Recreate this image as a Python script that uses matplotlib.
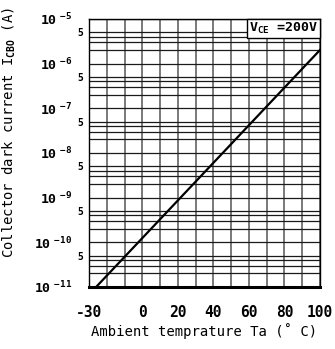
import math
import matplotlib
matplotlib.use("Agg")
import matplotlib.pyplot as plt
from matplotlib.ticker import FixedLocator, FuncFormatter, LogLocator, MultipleLocator
from matplotlib.offsetbox import AnchoredText

# dark current vs ambient temperature, straight line on a log axis
temp = [-26, 100]
i_cbo = [1e-11, 2e-6]

x_ticks = [-30, 0, 20, 40, 60, 80, 100]
decades = [-11, -10, -9, -8, -7, -6, -5]
condition = r"V$_{\rm CE}$ =200V"

plt.rcParams['font.family'] = 'DejaVu Sans Mono'
plt.rcParams['font.weight'] = 'bold'
plt.rcParams['axes.unicode_minus'] = False
plt.rcParams['mathtext.fontset'] = 'custom'
plt.rcParams['mathtext.rm'] = 'DejaVu Sans Mono:bold'
plt.rcParams['mathtext.it'] = 'DejaVu Sans Mono:bold'
plt.rcParams['mathtext.bf'] = 'DejaVu Sans Mono:bold'

fig = plt.figure(figsize=(3.35, 3.49), dpi=100)
ax = fig.add_axes([0.266, 0.178, 0.689, 0.768])

ax.plot(temp, i_cbo, color='black', lw=1.6, zorder=3)

ax.set_yscale('log')
ax.set_xlim(-30, 100)
ax.set_ylim(1e-11, 1e-5)

# x grid every 10 degrees, labels only on the chosen ticks
ax.xaxis.set_major_locator(FixedLocator(x_ticks))
ax.xaxis.set_minor_locator(MultipleLocator(10))
ax.xaxis.set_major_formatter(FuncFormatter(lambda v, p: "%d" % v))

ax.yaxis.set_major_locator(FixedLocator([10.0 ** d for d in decades]))
ax.yaxis.set_major_formatter(FuncFormatter(
    lambda v, p: r"$10^{\ %d}$" % round(math.log10(v))))
ax.yaxis.set_minor_locator(LogLocator(base=10, subs=(2, 3, 4, 5), numticks=30))


def minor_label(v, p):
    m = v / 10 ** math.floor(math.log10(v) + 1e-9)
    return "5" if abs(m - 5) < 0.01 else ""


ax.yaxis.set_minor_formatter(FuncFormatter(minor_label))

ax.tick_params(which='both', length=0)
ax.tick_params(axis='x', which='major', labelsize=10.5, pad=13)
ax.tick_params(axis='y', which='major', labelsize=9.5, pad=12)
ax.tick_params(axis='y', which='minor', labelsize=7, pad=4)

ax.grid(True, which='both', axis='y', color='#1a1a1a', lw=0.9)
ax.grid(True, which='both', axis='x', color='#555555', lw=1.1)

for s in ax.spines.values():
    s.set_linewidth(1.0)
    s.set_color('black')
ax.spines['bottom'].set_linewidth(2.2)

ax.set_xlabel("Ambient temprature Ta (\u02da C)", fontsize=10, labelpad=2)
ax.set_ylabel(r"Collector dark current I$_{\rm CBO}$ (A)", fontsize=10)
ax.yaxis.set_label_coords(-0.307, 0.575)

box = AnchoredText(condition, loc='upper right', borderpad=0, pad=0.15,
                   prop=dict(size=9.5, weight='bold'))
box.patch.set_linewidth(1.0)
box.patch.set_boxstyle('square,pad=0')
box.zorder = 4
ax.add_artist(box)

fig.savefig("out.png", dpi=100)
